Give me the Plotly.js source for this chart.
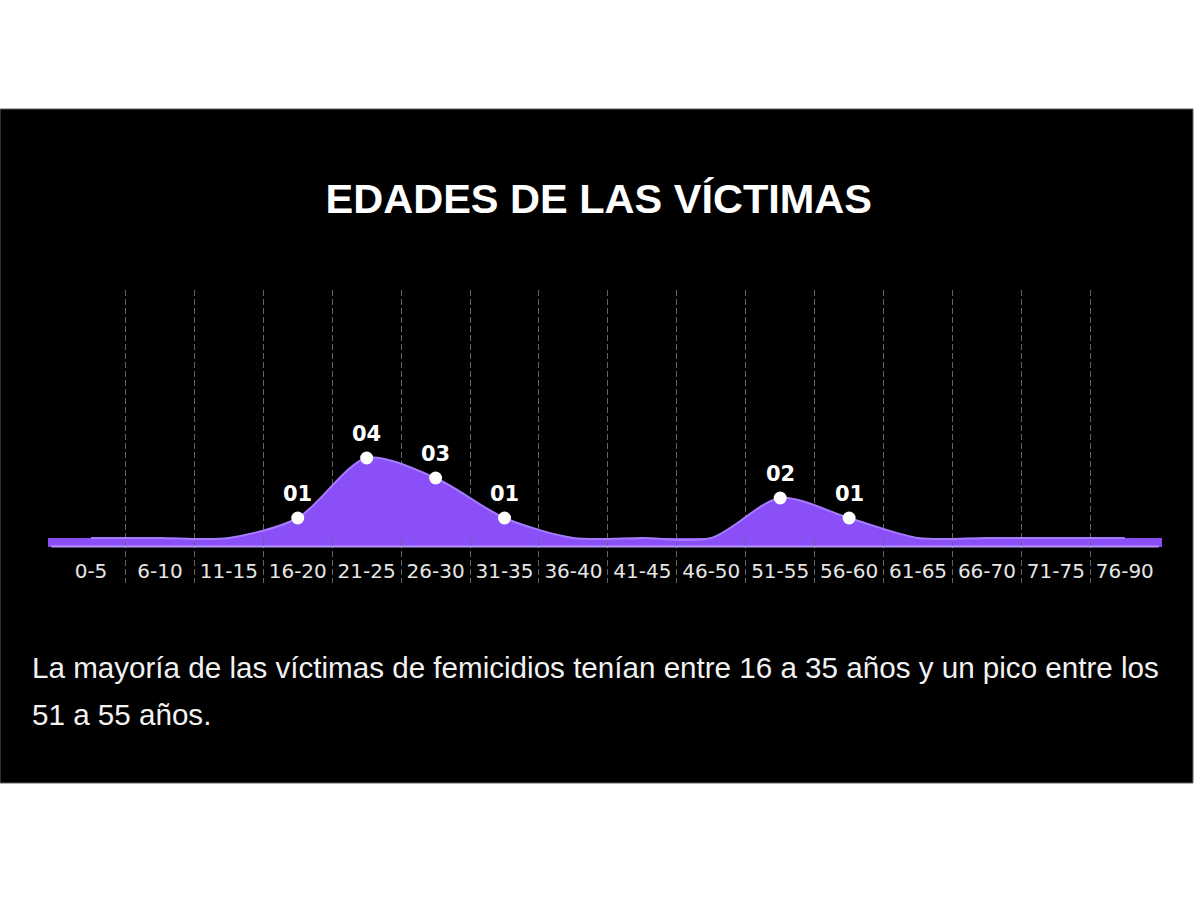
<!DOCTYPE html>
<html>
<head>
<meta charset="utf-8">
<script src="https://cdn.plot.ly/plotly-3.0.1.min.js"></script>
<style>
  html, body { margin: 0; padding: 0; background: #ffffff; }
  #chart { width: 1200px; height: 900px; }
</style>
</head>
<body>
<div id="chart"></div>
<script>
// ---- data ----
const categories = ["0-5", "6-10", "11-15", "16-20", "21-25", "26-30", "31-35", "36-40",
                    "41-45", "46-50", "51-55", "56-60", "61-65", "66-70", "71-75", "76-90"];
const victims = [0, 0, 0, 1, 4, 3, 1, 0, 0, 0, 2, 1, 0, 0, 0, 0];
const titleText = "EDADES DE LAS VÍCTIMAS";
const captionLines = [
  "La mayoría de las víctimas de femicidios tenían entre 16 a 35 años y un pico entre los",
  "51 a 55 años."
];

// ---- derived ----
const xIdx = categories.map((_, i) => i);
const sepVals = categories.slice(1).map((_, i) => i + 0.5);
const ptX = [], ptY = [], ptText = [];
victims.forEach((v, i) => {
  if (v > 0) { ptX.push(i); ptY.push(v); ptText.push(String(v).padStart(2, "0")); }
});

const PURPLE = "#8a4ff6";
const PURPLE_EDGE = "#a67cff";

const traces = [
  {
    type: "scatter",
    mode: "lines",
    x: xIdx,
    y: victims,
    line: { shape: "spline", smoothing: 0.8, color: PURPLE_EDGE, width: 2 },
    fill: "tozeroy",
    fillcolor: PURPLE,
    hoverinfo: "skip",
    showlegend: false
  },
  {
    type: "scatter",
    mode: "markers",
    x: ptX,
    y: ptY,
    marker: { size: 13, color: "#ffffff" },
    cliponaxis: false,
    hoverinfo: "skip",
    showlegend: false
  }
];

const pointLabels = ptX.map((x, i) => ({
  x: x, y: ptY[i], xref: "x", yref: "y",
  text: ptText[i], showarrow: false,
  xanchor: "center", yanchor: "middle", yshift: 24,
  font: { family: "DejaVu Sans", size: 21, color: "#ffffff", weight: "bold" }
}));

// plot area: x 48..1162 px, y 290..583 px
const layout = {
  width: 1200,
  height: 900,
  margin: { l: 48, r: 38, t: 290, b: 317, pad: 0 },
  paper_bgcolor: "#ffffff",
  plot_bgcolor: "rgba(0,0,0,0)",
  showlegend: false,
  title: {
    text: titleText,
    font: { family: "Liberation Sans, Arial, sans-serif", size: 41.5, color: "#ffffff", weight: "bold" },
    xref: "container", x: 0.499, xanchor: "center",
    yref: "container", y: 0.779, yanchor: "middle"
  },
  xaxis: {
    range: [-0.624, 15.54],
    tickmode: "array",
    tickvals: xIdx,
    ticktext: categories,
    ticks: "",
    showgrid: false,
    zeroline: false,
    showline: false,
    anchor: "free",
    position: 0.09,
    tickfont: { family: "DejaVu Sans", size: 20, color: "#e6e6e6" },
    minor: {
      tickmode: "array",
      tickvals: sepVals,
      showgrid: true,
      gridcolor: "#626262",
      gridwidth: 1,
      griddash: "6px,3px",
      ticks: ""
    },
    fixedrange: true
  },
  yaxis: {
    range: [-2.25, 12.4],
    showgrid: false,
    zeroline: false,
    showticklabels: false,
    showline: false,
    ticks: "",
    fixedrange: true
  },
  shapes: [
    // black panel
    { type: "rect", xref: "paper", yref: "paper", x0: -0.0431, x1: 1.0278, y0: -0.6826, y1: 1.6177,
      fillcolor: "#000000", line: { color: "#5e5e5e", width: 1 }, layer: "below" },
    // base band under the area
    { type: "rect", xref: "paper", yref: "y", x0: 0, x1: 1, y0: -0.45, y1: 0,
      fillcolor: PURPLE, line: { width: 0 }, layer: "below" },
    { type: "line", xref: "paper", yref: "y", x0: 0.003, x1: 0.997, y0: -0.42, y1: -0.42,
      line: { color: "#b894ff", width: 2 }, layer: "above" }
  ],
  annotations: pointLabels.concat([
    { text: captionLines[0], xref: "paper", yref: "paper", x: -0.0162, y: -0.2867,
      xanchor: "left", yanchor: "middle", showarrow: false,
      font: { family: "Liberation Sans, Arial, sans-serif", size: 29.6, color: "#f2f2f2" } },
    { text: captionLines[1], xref: "paper", yref: "paper", x: -0.0162, y: -0.4505,
      xanchor: "left", yanchor: "middle", showarrow: false,
      font: { family: "Liberation Sans, Arial, sans-serif", size: 29.6, color: "#f2f2f2" } }
  ])
};

Plotly.newPlot("chart", traces, layout, { displayModeBar: false, staticPlot: true });
</script>
</body>
</html>
